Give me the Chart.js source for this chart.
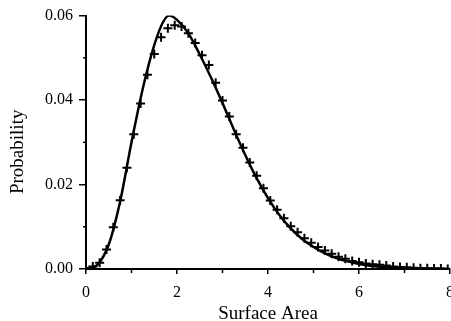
<!DOCTYPE html>
<html>
<head>
<meta charset="utf-8">
<script src="https://cdn.jsdelivr.net/npm/chart.js@4/dist/chart.umd.min.js"></script>
<style>
html, body { margin: 0; padding: 0; background: #fff; overflow: hidden; }
</style>
</head>
<body>
<canvas id="chart" width="463" height="321"></canvas>
<script>
// Simulated probabilities (crosses)
var sampleX = [0, 0.15, 0.3, 0.45, 0.6, 0.75, 0.9, 1.05, 1.2, 1.35, 1.5, 1.65, 1.8, 1.95,
    2.1, 2.25, 2.4, 2.55, 2.7, 2.85, 3.0, 3.15, 3.3, 3.45, 3.6, 3.75, 3.9, 4.05,
    4.2, 4.35, 4.5, 4.65, 4.8, 4.95, 5.1, 5.25, 5.4, 5.55, 5.7, 5.85, 6.0, 6.15,
    6.3, 6.45, 6.6, 6.75, 6.9, 7.05, 7.2, 7.35, 7.5, 7.65, 7.8, 7.95];
var sampleP = [0.0002, 0.0006, 0.0015, 0.0046, 0.0099, 0.0163, 0.0240, 0.0319, 0.0392, 0.0460,
    0.0509, 0.0549, 0.0570, 0.0577, 0.0574, 0.0558, 0.0535, 0.0506, 0.0483, 0.0441,
    0.0399, 0.0361, 0.0319, 0.0287, 0.0252, 0.0221, 0.0191, 0.0162, 0.0140, 0.0120,
    0.0101, 0.0087, 0.0073, 0.0062, 0.0052, 0.0044, 0.0036, 0.0029, 0.0024, 0.0019,
    0.0016, 0.0013, 0.0011, 0.0010, 0.0008, 0.0006, 0.0005, 0.0004, 0.0003, 0.0002,
    0.0002, 0.0001, 0.0001, 0.0000];

// Theoretical curve (solid line)
var curveX = [0, 0.25, 0.5, 0.75, 1.0, 1.25, 1.5, 1.7, 1.83, 2.0, 2.25, 2.5, 2.75, 3.0,
    3.25, 3.5, 3.75, 4.0, 4.25, 4.5, 4.75, 5.0, 5.25, 5.5, 5.75, 6.0, 6.5, 7.0, 7.5, 8.0];
var curveP = [0, 0.0010, 0.0058, 0.0160, 0.0300, 0.0428, 0.0530, 0.0586, 0.0600, 0.0590,
    0.0558, 0.0508, 0.0453, 0.0393, 0.0330, 0.0270, 0.0215, 0.0168, 0.0128, 0.0096,
    0.0071, 0.0052, 0.0037, 0.0026, 0.0018, 0.0012, 0.0005, 0.0002, 0.0001, 0];

var xMinorTicks = [1, 3, 5, 7];
var yMinorTicks = [0.01, 0.03, 0.05];

var fontFamily = "'Liberation Serif', 'Times New Roman', serif";

function toPoints(xs, ys) {
    return xs.map(function(x, i) { return { x: x, y: ys[i] }; });
}

/* Short minor ticks, placed through the scales */
var minorTicks = {
    id: 'minorTicks',
    afterDraw: function(chart) {
        var ctx = chart.ctx;
        var xs = chart.scales.x, ys = chart.scales.y;
        ctx.save();
        ctx.strokeStyle = '#000';
        ctx.lineWidth = 1.5;
        xMinorTicks.forEach(function(v) {
            var px = xs.getPixelForValue(v);
            ctx.beginPath();
            ctx.moveTo(px, xs.top);
            ctx.lineTo(px, xs.top + 4);
            ctx.stroke();
        });
        yMinorTicks.forEach(function(v) {
            var py = ys.getPixelForValue(v);
            ctx.beginPath();
            ctx.moveTo(ys.right - 3, py);
            ctx.lineTo(ys.right + 1, py);
            ctx.stroke();
        });
        ctx.restore();
    }
};

var ctx = document.getElementById('chart').getContext('2d');
var chart = new Chart(ctx, {
    type: 'scatter',
    data: {
        datasets: [{
            label: 'curve',
            data: toPoints(curveX, curveP),
            showLine: true,
            borderColor: '#000',
            borderWidth: 2.5,
            pointRadius: 0,
            tension: 0.4,
            cubicInterpolationMode: 'monotone'
        }, {
            label: 'samples',
            data: toPoints(sampleX, sampleP),
            showLine: false,
            pointStyle: 'cross',
            pointRadius: 4.5,
            borderColor: '#000',
            backgroundColor: '#000',
            borderWidth: 2
        }]
    },
    options: {
        responsive: false,
        animation: false,
        devicePixelRatio: 1,
        layout: { padding: { top: 13, right: 9, left: 0, bottom: 0 } },
        plugins: { legend: { display: false }, tooltip: { enabled: false } },
        scales: {
            x: {
                type: 'linear',
                min: 0,
                max: 8,
                border: { color: '#000', width: 2 },
                grid: { drawOnChartArea: false, color: '#000', lineWidth: 1.5, tickLength: 5 },
                ticks: {
                    stepSize: 2,
                    color: '#000',
                    padding: 9,
                    maxRotation: 0,
                    font: { family: fontFamily, size: 16 },
                    callback: function(v) { return v.toFixed(0); }
                },
                title: {
                    display: true,
                    text: 'Surface Area',
                    color: '#000',
                    font: { family: fontFamily, size: 19 },
                    padding: { top: 0, bottom: -4 }
                },
                afterFit: function(s) { s.height = 52; }
            },
            y: {
                min: 0,
                max: 0.06,
                border: { color: '#000', width: 2 },
                grid: { drawOnChartArea: false, color: '#000', lineWidth: 1.5, tickLength: 7 },
                ticks: {
                    stepSize: 0.02,
                    color: '#000',
                    padding: 6,
                    font: { family: fontFamily, size: 16 },
                    callback: function(v) { return v.toFixed(2); }
                },
                title: {
                    display: true,
                    text: 'Probability    ',
                    color: '#000',
                    font: { family: fontFamily, size: 19 },
                    padding: { top: 7, bottom: 0 }
                },
                afterFit: function(s) { s.width = 86; }
            }
        }
    },
    plugins: [minorTicks]
});
</script>
</body>
</html>
